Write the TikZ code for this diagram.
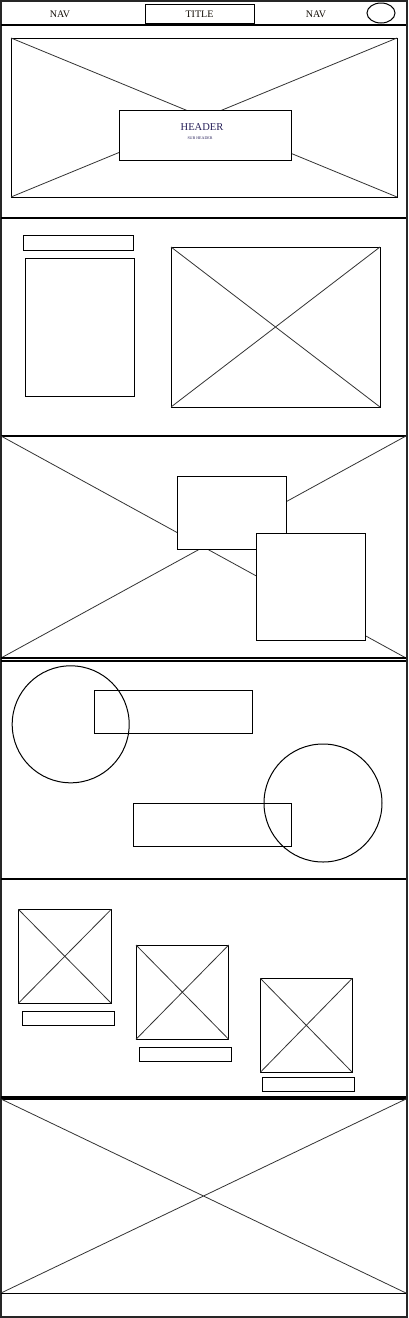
\documentclass[tikz,border=0pt]{standalone}
\usepackage{fontspec}
\setmainfont{Liberation Serif}
\begin{document}
\begin{tikzpicture}[x=1pt,y=-1pt,
  box/.style={draw=black,line width=1pt},
  wbox/.style={draw=black,fill=white,line width=1pt},
  diag/.style={draw=black!80,line width=0.8pt},
  sep/.style={draw=black,line width=1.2pt},
  lbl/.style={font=\fontsize{10}{12}\selectfont,text=black!90!brown,inner sep=0pt}]
\useasboundingbox (0,0) rectangle (408,1318);
\fill[white] (0,0) rectangle (408,1318);
% outer frame
\draw[draw=black!85,line width=2pt] (1,1) rectangle (406.5,1316.5);
% nav bar
\draw[sep] (1,25) -- (406,25);
\node[lbl] (nav1) at (60,14) {NAV};
\draw[box] (145,4) rectangle (254,23);
\node[lbl] (title) at (199.5,14) {TITLE};
\node[lbl] (nav2) at (316,14) {NAV};
\draw[box] (381,13) ellipse [x radius=14, y radius=10];
% hero
\draw[box] (11,38) rectangle (397,197);
\draw[diag] (11,38) -- (397,197) (397,38) -- (11,197);
\draw[wbox] (119,110) rectangle (291,160);
\node[inner sep=0pt,font=\fontsize{10.5}{12}\selectfont,text={rgb,1:red,0.15;green,0.12;blue,0.35}] (hdr) at (202,127) {HEADER};
\node[inner sep=0pt,font=\fontsize{4}{5}\selectfont,text={rgb,1:red,0.15;green,0.12;blue,0.35}] (sub) at (200,138) {SUB HEADER};
% section 2
\draw[sep] (1,218) -- (406,218);
\draw[box] (23,235) rectangle (133,250);
\draw[box] (25,258) rectangle (134,396);
\draw[box] (171,247) rectangle (380,407);
\draw[diag] (171,247) -- (380,407) (380,247) -- (171,407);
% section 3
\draw[sep] (1,436) -- (406,436);
\draw[diag] (1,436) -- (406,658) (406,436) -- (1,658);
\draw[wbox] (177.3,476) rectangle (286.3,549.3);
\draw[wbox] (256.3,533.3) rectangle (365.3,640.3);
% double line
\draw[sep] (1,658) -- (406,658);
\draw[sep] (1,661) -- (406,661);
% section 4
\draw[box] (70.7,724.3) circle [radius=58.5];
\draw[box] (94.3,690.3) rectangle (252.3,733);
\draw[box] (323,803) circle [radius=59];
\draw[box] (133.3,803.3) rectangle (291.3,846.3);
% section 5
\draw[draw=black,line width=2pt] (1,878.5) -- (406,878.5);
\draw[box] (18.3,909.3) rectangle (111.3,1003.3);
\draw[diag] (18.3,909.3) -- (111.3,1003.3) (111.3,909.3) -- (18.3,1003.3);
\draw[box] (22.3,1011.3) rectangle (114.7,1025.3);
\draw[box] (136,945) rectangle (228.7,1039.3);
\draw[diag] (136,945) -- (228.7,1039.3) (228.7,945) -- (136,1039.3);
\draw[box] (139.3,1047.3) rectangle (231.3,1061.3);
\draw[box] (260.3,978.3) rectangle (352.3,1072.3);
\draw[diag] (260.3,978.3) -- (352.3,1072.3) (352.3,978.3) -- (260.3,1072.3);
\draw[box] (262,1077.3) rectangle (354.7,1091.3);
% section 6
\draw[draw=black,line width=3.2pt] (1,1098) -- (406,1098);
\draw[diag] (1,1099) -- (406,1293) (406,1099) -- (1,1293);
\draw[sep] (1,1293.3) -- (406,1293.3);
\end{tikzpicture}
\end{document}
